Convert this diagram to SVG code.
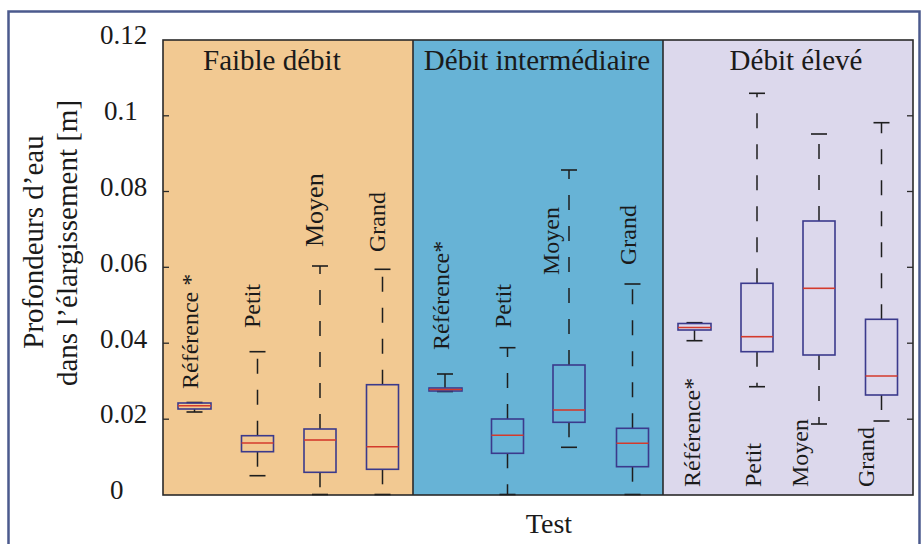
<svg xmlns="http://www.w3.org/2000/svg" width="921" height="544" viewBox="0 0 921 544" font-family="'Liberation Serif', 'Times New Roman', 'DejaVu Serif', serif">
<style>
text{font-family:'Liberation Serif','Times New Roman','DejaVu Serif',serif;fill:#1a1a1a}
.tick{font-size:27px}
.ttl{font-size:29px}
.lbl{font-size:24px}
.box{fill:none;stroke:#3b3a8c;stroke-width:1.6}
.med{stroke:#d43a2c;stroke-width:1.6}
.wh{stroke:#1e1e1e;stroke-width:1.5;stroke-dasharray:15 16}
.cap{stroke:#1e1e1e;stroke-width:1.6}
.tk{stroke:#2a2a2a;stroke-width:1.3}
</style>
<rect x="0" y="0" width="921" height="544" fill="#ffffff"/>
<rect x="8.5" y="11.5" width="911" height="540" fill="#ffffff" stroke="#4b5a8d" stroke-width="2.5"/>

<g id="panels">
<rect id="panel-faible" x="163" y="40" width="250" height="455" fill="#f2c992"/>
<rect id="panel-intermediaire" x="413" y="40" width="250" height="455" fill="#67b3d6"/>
<rect id="panel-eleve" x="663" y="40" width="250" height="455" fill="#dcd8ec"/>
<line x1="413" y1="40" x2="413" y2="495" stroke="#2a2a2a" stroke-width="1.6"/>
<line x1="663" y1="40" x2="663" y2="495" stroke="#2a2a2a" stroke-width="1.6"/>
<rect x="163" y="40" width="750" height="455" fill="none" stroke="#2a2a2a" stroke-width="1.6"/>
</g>

<g id="ticks">
<line class="tk" x1="163" y1="115.8" x2="169" y2="115.8"/>
<line class="tk" x1="163" y1="191.5" x2="169" y2="191.5"/>
<line class="tk" x1="163" y1="267.3" x2="169" y2="267.3"/>
<line class="tk" x1="163" y1="343.2" x2="169" y2="343.2"/>
<line class="tk" x1="163" y1="419.2" x2="169" y2="419.2"/>
<line class="tk" x1="907" y1="115.8" x2="913" y2="115.8"/>
<line class="tk" x1="907" y1="191.5" x2="913" y2="191.5"/>
<line class="tk" x1="907" y1="267.3" x2="913" y2="267.3"/>
<line class="tk" x1="907" y1="343.2" x2="913" y2="343.2"/>
<line class="tk" x1="907" y1="419.2" x2="913" y2="419.2"/>
</g>

<g id="y-axis">
<text class="tick" x="100" y="44">0.12</text>
<text class="tick" x="104" y="120">0.1</text>
<text class="tick" x="100" y="196">0.08</text>
<text class="tick" x="100" y="271.5">0.06</text>
<text class="tick" x="100" y="347.5">0.04</text>
<text class="tick" x="100" y="423">0.02</text>
<text class="tick" x="110" y="498.5">0</text>
<text class="ttl" transform="translate(43,242) rotate(-90)" text-anchor="middle">Profondeurs d’eau</text>
<text class="ttl" transform="translate(77,243) rotate(-90)" text-anchor="middle">dans l’élargissement [m]</text>
</g>

<g id="x-axis">
<text class="ttl" style="font-size:28px" x="549" y="533" text-anchor="middle">Test</text>
</g>

<g id="panel-titles">
<text class="ttl" x="203" y="70">Faible débit</text>
<text class="ttl" x="537" y="70" text-anchor="middle">Débit intermédiaire</text>
<text class="ttl" x="796" y="70" text-anchor="middle">Débit élevé</text>
</g>

<g id="connectors">
<line class="wh" x1="194.5" y1="409" x2="194.5" y2="412"/>
<line class="wh" x1="257.5" y1="435.7" x2="257.5" y2="351.7"/>
<line class="wh" x1="257.5" y1="451.7" x2="257.5" y2="475.7"/>
<line class="wh" x1="320" y1="429" x2="320" y2="266"/>
<line class="wh" x1="320" y1="472.3" x2="320" y2="494.5"/>
<line class="wh" x1="382.5" y1="384.7" x2="382.5" y2="269.3"/>
<line class="wh" x1="382.5" y1="469.3" x2="382.5" y2="494.5"/>
<line class="wh" x1="445" y1="388" x2="445" y2="374"/>
<line class="wh" x1="507.5" y1="419" x2="507.5" y2="347.7"/>
<line class="wh" x1="507.5" y1="453.3" x2="507.5" y2="494.5"/>
<line class="wh" x1="569" y1="365" x2="569" y2="170"/>
<line class="wh" x1="569" y1="422.3" x2="569" y2="447.3"/>
<line class="wh" x1="632.5" y1="428.3" x2="632.5" y2="284"/>
<line class="wh" x1="632.5" y1="466.7" x2="632.5" y2="494.5"/>
<line class="wh" x1="694.5" y1="330" x2="694.5" y2="340.7"/>
<line class="wh" x1="757" y1="283.3" x2="757" y2="93.3"/>
<line class="wh" x1="757" y1="351.7" x2="757" y2="386.7"/>
<line class="wh" x1="819" y1="221" x2="819" y2="134"/>
<line class="wh" x1="819" y1="355" x2="819" y2="424"/>
<line class="wh" x1="881.5" y1="319.3" x2="881.5" y2="122.7"/>
<line class="wh" x1="881.5" y1="395" x2="881.5" y2="421"/>
<line class="cap" x1="186.5" y1="412" x2="202.5" y2="412"/>
<line class="cap" x1="186.5" y1="402.5" x2="202.5" y2="402.5"/>
<line class="cap" x1="249.5" y1="351.7" x2="265.5" y2="351.7"/>
<line class="cap" x1="249.5" y1="475.7" x2="265.5" y2="475.7"/>
<line class="cap" x1="312" y1="266" x2="328" y2="266"/>
<line class="cap" x1="312" y1="494.5" x2="328" y2="494.5"/>
<line class="cap" x1="374.5" y1="269.3" x2="390.5" y2="269.3"/>
<line class="cap" x1="374.5" y1="494.5" x2="390.5" y2="494.5"/>
<line class="cap" x1="437" y1="374" x2="453" y2="374"/>
<line class="cap" x1="437" y1="391.5" x2="453" y2="391.5"/>
<line class="cap" x1="499.5" y1="347.7" x2="515.5" y2="347.7"/>
<line class="cap" x1="499.5" y1="494.5" x2="515.5" y2="494.5"/>
<line class="cap" x1="561" y1="170" x2="577" y2="170"/>
<line class="cap" x1="561" y1="447.3" x2="577" y2="447.3"/>
<line class="cap" x1="624.5" y1="284" x2="640.5" y2="284"/>
<line class="cap" x1="624.5" y1="494.5" x2="640.5" y2="494.5"/>
<line class="cap" x1="686.5" y1="322.7" x2="702.5" y2="322.7"/>
<line class="cap" x1="686.5" y1="340.7" x2="702.5" y2="340.7"/>
<line class="cap" x1="749" y1="93.3" x2="765" y2="93.3"/>
<line class="cap" x1="749" y1="386.7" x2="765" y2="386.7"/>
<line class="cap" x1="811" y1="134" x2="827" y2="134"/>
<line class="cap" x1="811" y1="424" x2="827" y2="424"/>
<line class="cap" x1="873.5" y1="122.7" x2="889.5" y2="122.7"/>
<line class="cap" x1="873.5" y1="421" x2="889.5" y2="421"/>
</g>

<g id="faible-reference"><rect class="box" x="178" y="403" width="33" height="6"/><line class="med" x1="178" y1="405.8" x2="211" y2="405.8"/></g>
<g id="faible-petit"><rect class="box" x="241.5" y="435.7" width="32" height="16"/><line class="med" x1="241.5" y1="443" x2="273.5" y2="443"/></g>
<g id="faible-moyen"><rect class="box" x="304" y="429" width="32" height="43.3"/><line class="med" x1="304" y1="440" x2="336" y2="440"/></g>
<g id="faible-grand"><rect class="box" x="366.5" y="384.7" width="32" height="84.6"/><line class="med" x1="366.5" y1="446.7" x2="398.5" y2="446.7"/></g>

<g id="inter-reference"><rect class="box" x="429" y="388" width="33" height="3"/><line class="med" x1="429" y1="389.5" x2="462" y2="389.5"/></g>
<g id="inter-petit"><rect class="box" x="491.5" y="419" width="32" height="34.3"/><line class="med" x1="491.5" y1="435.3" x2="523.5" y2="435.3"/></g>
<g id="inter-moyen"><rect class="box" x="553" y="365" width="32" height="57.3"/><line class="med" x1="553" y1="410" x2="585" y2="410"/></g>
<g id="inter-grand"><rect class="box" x="616.5" y="428.3" width="32" height="38.4"/><line class="med" x1="616.5" y1="443.3" x2="648.5" y2="443.3"/></g>

<g id="eleve-reference"><rect class="box" x="678" y="323.5" width="33" height="6.5"/><line class="med" x1="678" y1="327.5" x2="711" y2="327.5"/></g>
<g id="eleve-petit"><rect class="box" x="741" y="283.3" width="32" height="68.4"/><line class="med" x1="741" y1="336.7" x2="773" y2="336.7"/></g>
<g id="eleve-moyen"><rect class="box" x="803" y="221" width="32" height="134"/><line class="med" x1="803" y1="288.3" x2="835" y2="288.3"/></g>
<g id="eleve-grand"><rect class="box" x="865.5" y="319.3" width="32" height="75.7"/><line class="med" x1="865.5" y1="376" x2="897.5" y2="376"/></g>

<g id="labels">
<text class="lbl" transform="translate(198,389) rotate(-90)">Référence *</text>
<text class="lbl" transform="translate(260,328) rotate(-90)">Petit</text>
<text class="lbl" style="font-size:26px" transform="translate(323,247) rotate(-90)">Moyen</text>
<text class="lbl" transform="translate(385,252) rotate(-90)">Grand</text>
<text class="lbl" transform="translate(449,350) rotate(-90)">Référence*</text>
<text class="lbl" transform="translate(511,328) rotate(-90)">Petit</text>
<text class="lbl" transform="translate(559,275) rotate(-90)">Moyen</text>
<text class="lbl" transform="translate(636,265) rotate(-90)">Grand</text>
<text class="lbl" transform="translate(700,487) rotate(-90)">Référence*</text>
<text class="lbl" transform="translate(761,487) rotate(-90)">Petit</text>
<text class="lbl" transform="translate(808,487) rotate(-90)">Moyen</text>
<text class="lbl" transform="translate(874,487) rotate(-90)">Grand</text>
</g>
</svg>
